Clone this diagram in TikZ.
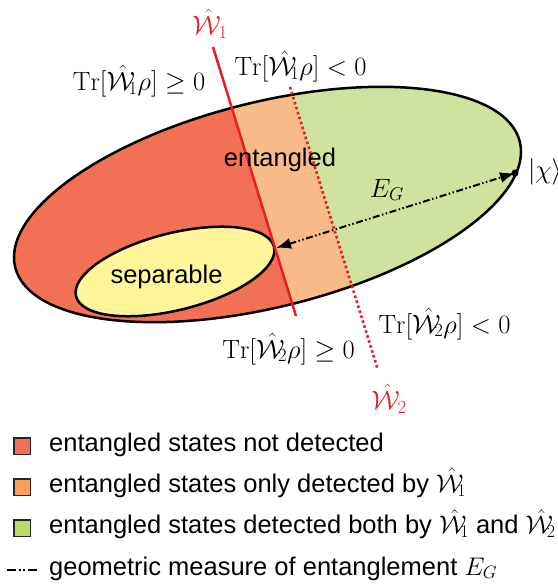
\RequirePackage{fix-cm}
\documentclass[tikz,border=0pt]{standalone}
\usepackage{amsmath,amssymb}
\usepackage{fontspec}
\setsansfont{Liberation Sans}
\usetikzlibrary{arrows.meta,positioning,calc}

\definecolor{notdet}{RGB}{242,112,83}
\definecolor{onedet}{RGB}{249,187,135}
\definecolor{bothdet}{RGB}{207,227,158}
\definecolor{sepfill}{RGB}{255,246,154}
\definecolor{legone}{RGB}{248,160,85}
\definecolor{legboth}{RGB}{190,215,105}
\definecolor{witred}{RGB}{230,30,40}
\newcommand{\Wit}[1]{\hat{\mathcal{W}}_{\kern-4pt #1}}
\newcommand{\Witn}[1]{\hat{\mathcal{W}}_{#1}}

\tikzset{
  lbl/.style={font=\fontsize{26.5}{31}\selectfont, inner sep=0pt},
  sanslbl/.style={lbl, font=\sffamily\fontsize{25.5}{30}\selectfont},
  witlbl/.style={lbl, text=witred},
  legbox/.style={draw=black!85, line width=1.5pt, minimum size=16.5pt, inner sep=0pt},
  egline/.style={line width=2pt, dash pattern=on 7pt off 2.5pt on 1.5pt off 2.5pt on 1.5pt off 2.5pt},
  wone/.style={witred, line width=2.5pt},
  wtwo/.style={witred, line width=2.6pt, dash pattern=on 2.6pt off 2.6pt},
}

\begin{document}
\begin{tikzpicture}[x=1pt,y=1pt]
\useasboundingbox (0,0) rectangle (557,-585);
% witness lines
\coordinate (w1a) at (213,-47);
\coordinate (w1b) at (296,-316);
\coordinate (w2a) at (290,-87);
\coordinate (w2b) at (378,-370);
% state space
\begin{scope}
  \clip[rotate around={14:(267.5,-204.5)}] (267.5,-204.5) ellipse [x radius=260, y radius=102.5];
  \fill[notdet] (0,0) rectangle (557,-420);
  \fill[onedet] ($(w1a)!-0.2!(w1b)$) -- ($(w1a)!1.4!(w1b)$) -- (600,-420) -- (600,0) -- cycle;
  \fill[bothdet] ($(w2a)!-0.35!(w2b)$) -- ($(w2a)!1.2!(w2b)$) -- (600,-420) -- (600,0) -- cycle;
\end{scope}
\draw[line width=2.5pt, rotate around={14:(267.5,-204.5)}] (267.5,-204.5) ellipse [x radius=260, y radius=102.5];
\draw[line width=2.5pt, fill=sepfill, rotate around={14:(175,-271.5)}] (175,-271.5) ellipse [x radius=102, y radius=38.5];
\draw[wone] (w1a) -- (w1b);
\draw[wtwo] (w2a) -- (w2b);
% measure
\coordinate (chi) at (515,-173);
\coordinate (sepR) at (276,-248);
\draw[egline, {Latex[length=15pt,width=11pt]}-{Latex[length=15pt,width=11pt]}] (sepR) -- (chi);
\fill (chi) circle (3.5);
% labels
\node[witlbl] (w1lbl) at (210,-24) {$\Witn{1}$};
\node[witlbl] (w2lbl) at (389,-399) {$\Witn{2}$};
\node[lbl, anchor=base] (tr1pos) at (139,-90.7) {$\mathrm{Tr}[\Wit{1}\rho]\geq 0$};
\node[lbl, anchor=base] (tr1neg) at (300.5,-76) {$\mathrm{Tr}[\Wit{1}\rho]<0$};
\node[lbl, anchor=base] (tr2pos) at (288.5,-358) {$\mathrm{Tr}[\Wit{2}\rho]\geq 0$};
\node[lbl, anchor=base] (tr2neg) at (444.5,-333) {$\mathrm{Tr}[\Wit{2}\rho]<0$};
\node[sanslbl, anchor=base] (ent) at (280,-167) {entangled};
\node[sanslbl, anchor=base] (sep) at (166.5,-283) {separable};
\node[lbl, anchor=base] (eg) at (387,-197) {$E_G$};
\node[lbl] (chilbl) at (545,-172) {$|\chi\rangle$};
% legend
\foreach \c/\t [count=\i] in {notdet/{entangled states not detected},
    legone/{entangled states only detected by $\Wit{1}$},
    legboth/{entangled states detected both by $\Wit{1}$ and $\Wit{2}$}} {
  \node[legbox, fill=\c] (box\i) at (22,{-446-41*(\i-1)}) {};
  \node[sanslbl, anchor=base west] (leg\i) at (49,{-451-41.3*(\i-1)}) {\t};
}
\coordinate (eg1) at (7,-570);
\coordinate (eg2) at (37,-570);
\draw[line width=2pt, dash pattern=on 9pt off 2.5pt on 2pt off 2.5pt on 2pt off 2.5pt] (eg1) -- (eg2);
\node[sanslbl, anchor=base west] (leg4) at (49,-575) {geometric measure of entanglement $E_G$};
\end{tikzpicture}
\end{document}
